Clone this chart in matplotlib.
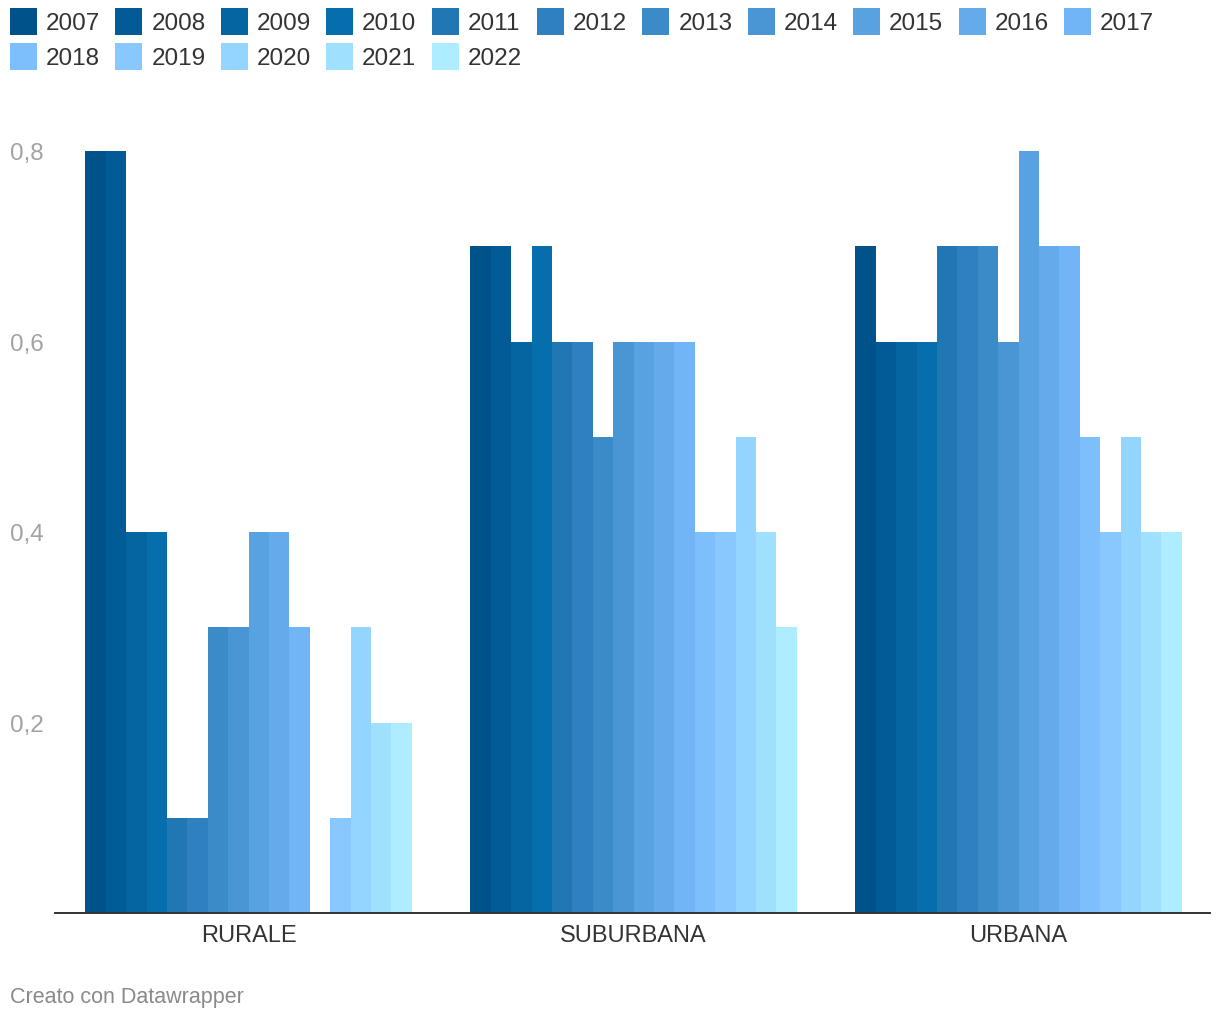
import numpy as np
import matplotlib.pyplot as plt
from matplotlib.patches import Rectangle
from matplotlib.ticker import FuncFormatter

plt.rcParams['font.family'] = ['Liberation Sans', 'DejaVu Sans']

# dati
regioni = ["RURALE", "SUBURBANA", "URBANA"]
anni = ["2007", "2008", "2009", "2010", "2011", "2012", "2013", "2014",
        "2015", "2016", "2017", "2018", "2019", "2020", "2021", "2022"]
rurale = [0.8, 0.8, 0.4, 0.4, 0.1, 0.1, 0.3, 0.3, 0.4, 0.4, 0.3, 0.0, 0.1, 0.3, 0.2, 0.2]
suburbana = [0.7, 0.7, 0.6, 0.7, 0.6, 0.6, 0.5, 0.6, 0.6, 0.6, 0.6, 0.4, 0.4, 0.5, 0.4, 0.3]
urbana = [0.7, 0.6, 0.6, 0.6, 0.7, 0.7, 0.7, 0.6, 0.8, 0.7, 0.7, 0.5, 0.4, 0.5, 0.4, 0.4]
colori = ["#00528a", "#015b96", "#0465a0", "#066ead", "#2077b4", "#2f80c0",
          "#3c8bc9", "#4a96d4", "#58a2e2", "#64abec", "#71b5f7", "#7dbffd",
          "#88c8fe", "#94d5ff", "#a0e0ff", "#aeecff"]

valori = np.array([rurale, suburbana, urbana])

W, H = 1220, 1020
fig = plt.figure(figsize=(W / 100, H / 100), dpi=100)
ax = fig.add_axes([55 / W, 1 - 914 / H, 1155 / W, (914 - 152) / H])

x = np.arange(len(regioni))
w = 0.053
for j, anno in enumerate(anni):
    ax.bar(x + (j - 7.5) * w, valori[:, j], w, color=colori[j], linewidth=0, clip_on=False)

ax.set_xlim(-0.503, 2.497)
ax.set_ylim(0, 0.8)
ax.set_xticks(x)
ax.set_xticklabels(regioni, fontsize=17, color="#333333")
ax.set_yticks([0.2, 0.4, 0.6, 0.8])
ax.yaxis.set_major_formatter(FuncFormatter(lambda v, p: f"{v:.1f}".replace(".", ",")))
for lbl in ax.get_yticklabels():
    lbl.set_ha("left")
ax.tick_params(axis="y", length=0, pad=32.4, labelsize=17.5, labelcolor="#a3a3a3")
ax.tick_params(axis="x", length=0, pad=8)

for s in ["top", "right", "left"]:
    ax.spines[s].set_visible(False)
ax.spines["bottom"].set_color("#333333")
ax.spines["bottom"].set_linewidth(1.4)

# legenda
for i, anno in enumerate(anni):
    riga, col = divmod(i, 11)
    x0 = 10 + col * 105.4
    y0 = 9 + riga * 35
    fig.add_artist(Rectangle((x0 / W, 1 - (y0 + 27) / H), 27 / W, 27 / H,
                             transform=fig.transFigure, color=colori[i], lw=0))
    fig.text((x0 + 36) / W, 1 - (y0 + 15) / H, anno, fontsize=17.5,
             color="#333333", va="center", ha="left")

fig.text(10 / W, 1 - 998 / H, "Creato con Datawrapper", fontsize=15.5,
         color="#8a8a8a", va="center", ha="left")

fig.savefig("out.png", dpi=100, facecolor="white")
